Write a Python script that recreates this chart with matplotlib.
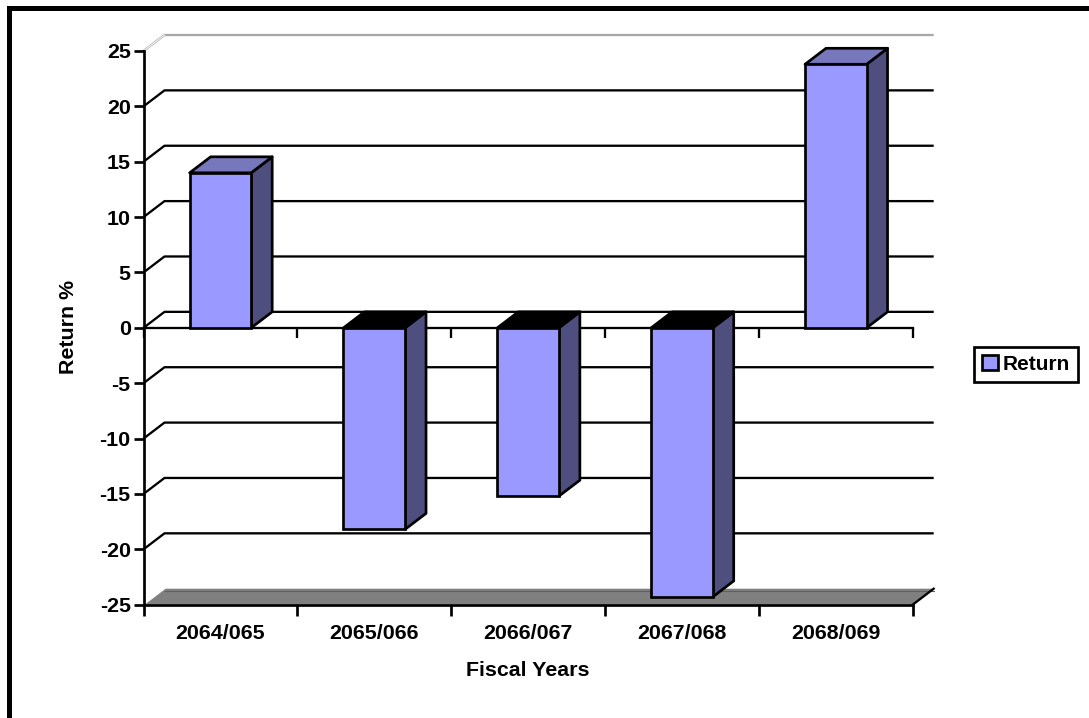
# 3D-style column chart of yearly returns
import matplotlib
matplotlib.use('Agg')
import matplotlib.pyplot as plt
from matplotlib.patches import Polygon

plt.rcParams['font.family'] = ['Liberation Sans', 'DejaVu Sans']
plt.rcParams['font.weight'] = 'bold'
plt.rcParams['axes.unicode_minus'] = False

years = ['2064/065', '2065/066', '2066/067', '2067/068', '2068/069']
returns = [14.0, -18.2, -15.2, -24.3, 23.8]
yticks = [25, 20, 15, 10, 5, 0, -5, -10, -15, -20, -25]
series_name = 'Return'

W, H = 1089, 718
GRID_LW = 2.3 * 72 / 100
LW = 2.7 * 72 / 100

fig = plt.figure(figsize=(W / 100, H / 100), dpi=100)

# heavy rule along the top and left of the chart
fig.add_artist(plt.Line2D([9 / W, 9 / W, 1], [0, 1 - 7.5 / H, 1 - 7.5 / H],
                          transform=fig.transFigure, color='black',
                          linewidth=5 * 72 / 100, solid_joinstyle='miter'))

# axes cover the front plane of the box
left, right, top, bottom = 143.5, 912.7, 51.0, 604.7
ax = fig.add_axes([left / W, 1 - bottom / H, (right - left) / W, (bottom - top) / H])
ax.set_xlim(0, len(years))
ax.set_ylim(-25, 25)
ax.patch.set_visible(False)

# depth of the box, in data units
dx = 21 / ((right - left) / len(years))
dy = 16 / ((bottom - top) / 50)
xmax = len(years)

# back wall grid and the slanted part on the side wall
for v in yticks:
    if v == -25:
        continue
    color = '#a8a8a8' if v == 25 else 'black'
    ax.plot([0, dx, xmax + dx], [v, v + dy, v + dy], color=color, lw=GRID_LW,
            clip_on=False, zorder=1, solid_capstyle='butt')
ax.plot([0, dx], [25, 25 + dy], color='white', lw=0.7, clip_on=False, zorder=1)

# grey floor
ax.add_patch(Polygon([(0, -25), (dx, -25 + dy), (xmax + dx, -25 + dy), (xmax, -25)],
                     closed=True, facecolor='#808080', edgecolor='none',
                     clip_on=False, zorder=1))
ax.plot([dx, xmax + dx], [-25 + dy * 0.85] * 2, color='#606060', lw=0.8, clip_on=False, zorder=1)
ax.plot([0, dx], [-25, -25 + dy], color='white', lw=1, clip_on=False, zorder=1)
ax.plot([xmax, xmax + dx], [-25, -25 + dy], color='black', lw=GRID_LW, clip_on=False, zorder=1)

# front line at zero with its ticks
ax.plot([0, xmax], [0, 0], color='black', lw=GRID_LW, clip_on=False, zorder=2)
ax.vlines(range(xmax + 1), -0.9, 0, color='black', lw=GRID_LW, clip_on=False, zorder=2)

# columns: side, cap, then front face
bar_w = 0.4
for i, val in enumerate(returns):
    x0 = i + (1 - bar_w) / 2
    x1 = x0 + bar_w
    ax.add_patch(Polygon([(x1, 0), (x1 + dx, dy), (x1 + dx, val + dy), (x1, val)],
                         facecolor='#4f4f7f', edgecolor='black', lw=LW,
                         joinstyle='round', clip_on=False, zorder=3))
    cap = '#7777bb' if val > 0 else 'black'
    y = max(val, 0)
    ax.add_patch(Polygon([(x0, y), (x0 + dx, y + dy), (x1 + dx, y + dy), (x1, y)],
                         facecolor=cap, edgecolor='black', lw=LW,
                         joinstyle='round', clip_on=False, zorder=3))
    ax.bar(x0, val, width=bar_w, align='edge', color='#9999ff', edgecolor='black',
           linewidth=LW, zorder=4, clip_on=False, label=series_name if i == 0 else None)

for side in ['top', 'right']:
    ax.spines[side].set_visible(False)
for side in ['left', 'bottom']:
    ax.spines[side].set_linewidth(LW)
    ax.spines[side].set_zorder(2)

ax.set_yticks(yticks)
ax.tick_params(axis='y', length=7.2, width=LW, pad=2, labelsize=15.4)
ax.set_xticks(range(xmax + 1))
ax.set_xticklabels([])
ax.tick_params(axis='x', which='major', length=7.8, width=LW)
ax.set_xticks([i + 0.5 for i in range(xmax)], minor=True)
ax.set_xticklabels(years, minor=True, fontsize=15.4)
ax.tick_params(axis='x', which='minor', length=0, pad=14)

fig.text(528 / W, 1 - 670 / H, 'Fiscal Years', ha='center', va='center', fontsize=15.4)
fig.text(69 / W, 1 - 327 / H, 'Return %', ha='center', va='center', rotation=90, fontsize=15.4)

leg = ax.legend(loc='center', bbox_to_anchor=(1026.3 / W, 1 - 364.3 / H),
                bbox_transform=fig.transFigure, fontsize=15, fancybox=False,
                framealpha=1, edgecolor='black', handlelength=0.75, handleheight=0.75,
                handletextpad=0.25, borderpad=0.38, borderaxespad=0)
leg.get_frame().set_linewidth(LW)

fig.savefig('out.png', dpi=100)
